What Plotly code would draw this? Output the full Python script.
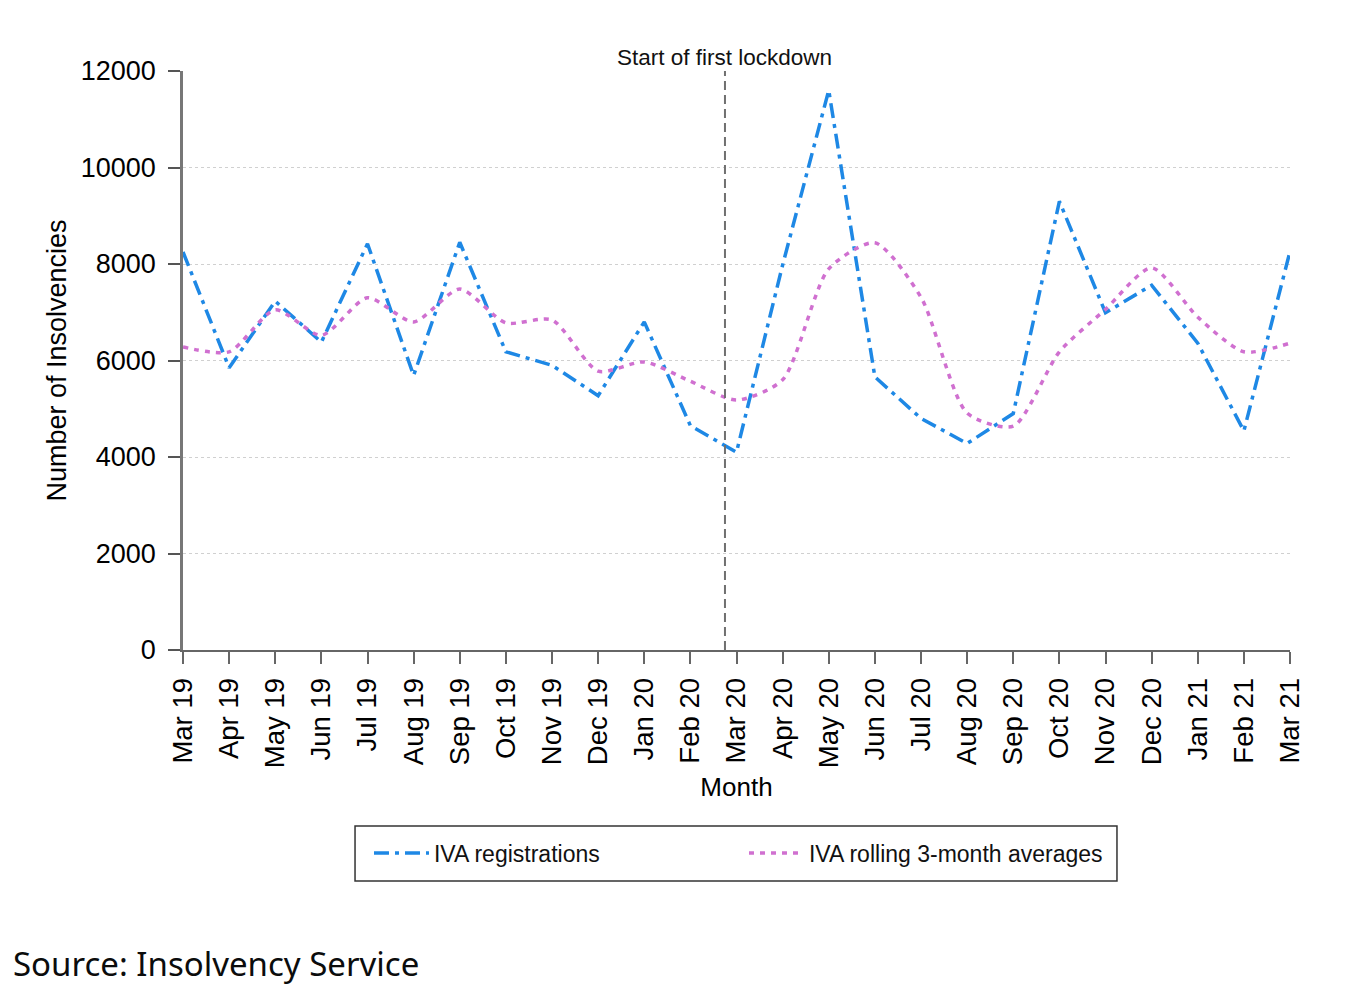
import plotly.graph_objects as go

months = ["Mar 19", "Apr 19", "May 19", "Jun 19", "Jul 19", "Aug 19", "Sep 19",
          "Oct 19", "Nov 19", "Dec 19", "Jan 20", "Feb 20", "Mar 20", "Apr 20",
          "May 20", "Jun 20", "Jul 20", "Aug 20", "Sep 20", "Oct 20", "Nov 20",
          "Dec 20", "Jan 21", "Feb 21", "Mar 21"]

iva_registrations = [8250, 5850, 7230, 6380, 8420, 5690, 8450, 6180, 5900, 5270,
                     6800, 4650, 4100, 7980, 11600, 5660, 4800, 4280, 4900, 9300,
                     6990, 7560, 6360, 4540, 8260]

iva_rolling_avg = [6280, 6180, 7050, 6520, 7300, 6800, 7480, 6780, 6840, 5780,
                   5970, 5570, 5180, 5600, 7900, 8440, 7310, 4910, 4640, 6180,
                   7060, 7920, 6900, 6180, 6360]

y_ticks = [0, 2000, 4000, 6000, 8000, 10000, 12000]

lockdown_month_pos = 11.75  # 23 March 2020, between Feb 20 and Mar 20
lockdown_label = "Start of first lockdown"

x_idx = list(range(len(months)))

fig = go.Figure()

fig.add_trace(go.Scatter(
    x=x_idx, y=iva_registrations, mode="lines", name="IVA registrations",
    line=dict(color="#1E88E5", width=3.5, dash="15px,6px,4px,6px"),
))
fig.add_trace(go.Scatter(
    x=x_idx, y=iva_rolling_avg, mode="lines", name="IVA rolling 3-month averages",
    line=dict(color="#D070D0", width=3.5, dash="5px,6px", shape="spline", smoothing=0.7),
))

fig.add_shape(type="line", xref="x", yref="paper", x0=lockdown_month_pos, x1=lockdown_month_pos,
              y0=0, y1=1, line=dict(color="#707070", width=2, dash="9px,5px"))

# legend frame
fig.add_shape(type="rect", xref="paper", yref="paper", x0=0.1554, x1=0.8437, y0=-0.399, y1=-0.304,
              line=dict(color="#333", width=1.5), fillcolor="rgba(0,0,0,0)")

fig.add_annotation(x=lockdown_month_pos, xref="x", y=1, yref="paper", text=lockdown_label,
                   showarrow=False, yanchor="bottom", xanchor="center", yshift=-1,
                   font=dict(family="Liberation Sans, Arial", size=22.5, color="#111"))

fig.add_annotation(x=-0.1554, xref="paper", y=-0.541, yref="paper", text="Source: Insolvency Service",
                   showarrow=False, xanchor="left", yanchor="middle",
                   font=dict(family="Noto Sans", size=33, color="#0b0c0c"))

fig.update_layout(
    width=1350, height=987,
    margin=dict(l=175, r=68, t=63, b=345),
    paper_bgcolor="white", plot_bgcolor="white",
    font=dict(family="Liberation Sans, Arial", color="#000"),
    showlegend=True,
    legend=dict(
        orientation="h", x=0.168, xanchor="left", y=-0.3506, yanchor="middle",
        borderwidth=0, bgcolor="rgba(0,0,0,0)",
        font=dict(size=23, family="Liberation Sans, Arial", color="#111"),
        entrywidth=305, entrywidthmode="pixels", itemwidth=55,
    ),
    xaxis=dict(
        range=[0, len(months) - 1], tickmode="array", tickvals=x_idx, ticktext=months,
        tickangle=-90, tickfont=dict(size=27.5), ticks="outside", ticklen=12, tickwidth=2,
        tickcolor="#666", showline=True, linecolor="#666", linewidth=2, showgrid=False,
        zeroline=False, ticklabelstandoff=3,
        title=dict(text="Month", font=dict(size=26), standoff=11),
    ),
    yaxis=dict(
        range=[0, 12000], tickmode="array", tickvals=y_ticks, ticktext=[str(v) for v in y_ticks],
        tickfont=dict(size=27), ticks="outside", ticklen=12, tickwidth=2, tickcolor="#555",
        showline=True, linecolor="#777", linewidth=2.5, showgrid=True, gridcolor="#d0d0d0",
        griddash="dot", gridwidth=1, zeroline=False, ticklabelstandoff=7,
        title=dict(text="Number of Insolvencies", font=dict(size=27), standoff=7),
    ),
)

fig.write_html("out.html")
